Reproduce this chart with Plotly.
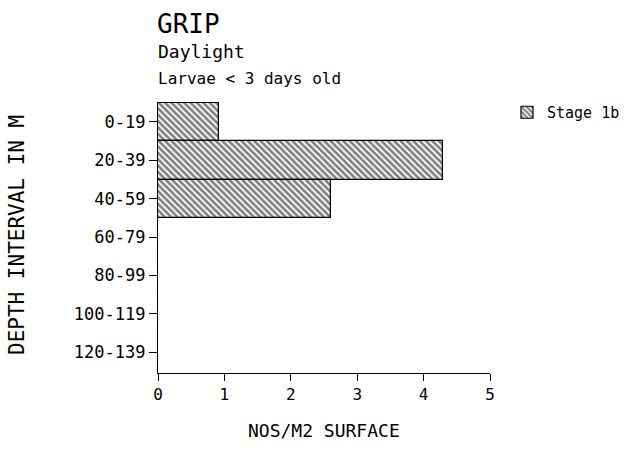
import plotly.graph_objects as go

depth_intervals = ["0-19", "20-39", "40-59", "60-79", "80-99", "100-119", "120-139"]
stage_1b = [0.92, 4.29, 2.61, 0, 0, 0, 0]
x_ticks = [0, 1, 2, 3, 4, 5]

FONT = "DejaVu Sans Mono, Liberation Mono, monospace"

fig = go.Figure()
fig.add_trace(go.Bar(
    x=stage_1b, y=depth_intervals, orientation="h", name="Stage 1b",
    width=1.0,
    marker=dict(color="white", line=dict(color="black", width=1.2),
                pattern=dict(shape="\\", fgcolor="black", bgcolor="white",
                             size=4.5, solidity=0.6)),
    showlegend=True,
))

W, H = 629, 450
L, R, T, B = 158, 139, 102, 77
pw, ph = W - L - R, H - T - B

def px(x):
    return (x - L) / pw

def py(y):
    return (H - B - y) / ph

fig.update_layout(
    width=W, height=H,
    margin=dict(l=L, r=R, t=T, b=B, autoexpand=False),
    paper_bgcolor="white", plot_bgcolor="white",
    font=dict(family=FONT, color="black", size=16),
    bargap=0,
    xaxis=dict(range=[0, 5], tickvals=x_ticks, ticktext=[str(v) for v in x_ticks],
               showline=True, linecolor="black", linewidth=1.2,
               ticks="outside", ticklen=7, tickcolor="black", tickwidth=1.2,
               showgrid=False, zeroline=False,
               tickfont=dict(family=FONT, size=16, color="black")),
    yaxis=dict(type="category", categoryorder="array", categoryarray=depth_intervals,
               range=[6.54, -0.52],
               showline=True, linecolor="black", linewidth=1.2,
               ticks="outside", ticklen=8, tickcolor="black", tickwidth=1.2,
               showgrid=False, zeroline=False,
               tickfont=dict(family=FONT, size=17, color="black")),
    legend=dict(x=px(507), y=py(96), xanchor="left", yanchor="top",
                font=dict(family=FONT, size=15, color="black"),
                bgcolor="rgba(0,0,0,0)", itemwidth=30),
    annotations=[
        dict(text="GRIP", x=px(155), y=py(24), xref="paper", yref="paper",
             xanchor="left", yanchor="middle", showarrow=False,
             font=dict(family=FONT, size=26, color="black")),
        dict(text="Daylight", x=px(156), y=py(51), xref="paper", yref="paper",
             xanchor="left", yanchor="middle", showarrow=False,
             font=dict(family=FONT, size=18, color="black")),
        dict(text="Larvae &lt; 3 days old", x=px(156), y=py(78), xref="paper", yref="paper",
             xanchor="left", yanchor="middle", showarrow=False,
             font=dict(family=FONT, size=16, color="black")),
        dict(text="NOS/M2 SURFACE", x=px(324), y=py(430), xref="paper", yref="paper",
             xanchor="center", yanchor="middle", showarrow=False,
             font=dict(family=FONT, size=18, color="black")),
        dict(text="DEPTH INTERVAL IN M", x=px(17), y=py(235), xref="paper", yref="paper",
             xanchor="center", yanchor="middle", showarrow=False, textangle=-90,
             font=dict(family=FONT, size=21, color="black")),
    ],
)

fig.write_html("out.html", post_script="document.body.style.margin='0';",
               config={"displayModeBar": False})
